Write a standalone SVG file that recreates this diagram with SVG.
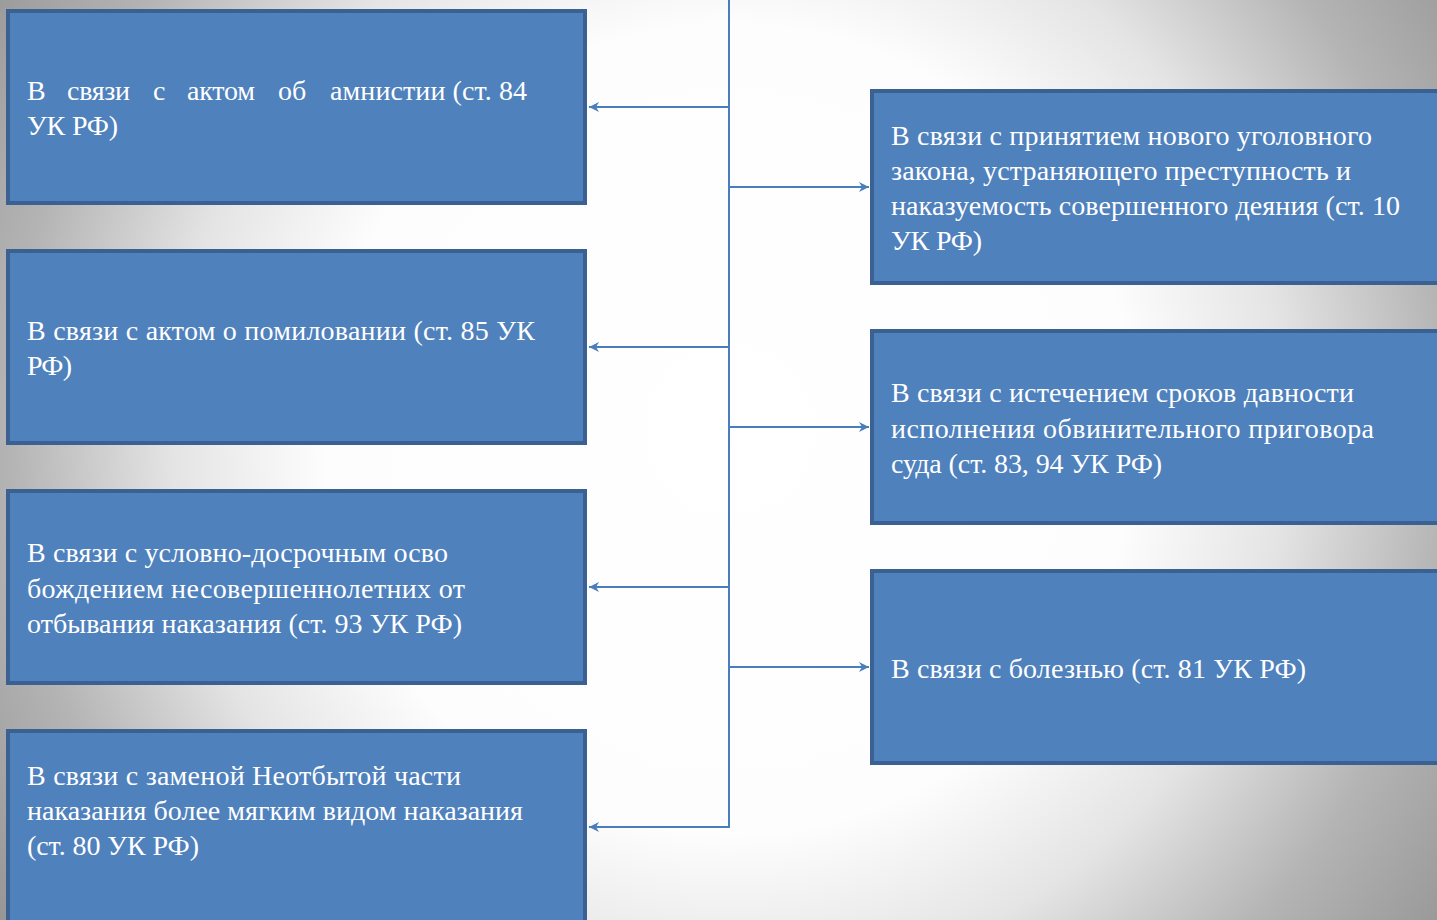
<svg xmlns="http://www.w3.org/2000/svg" width="1437" height="920" viewBox="0 0 1437 920">
<style>
.box{fill:#4F81BD;stroke:#3B6192;stroke-width:4}
.t{font-family:"Liberation Serif","DejaVu Serif",serif;font-size:28px;fill:#FFFFFF}
.c{stroke:#4A7EBB;stroke-width:2;fill:none}
</style>
<defs>
<radialGradient id="bg" cx="730" cy="430" r="900" gradientUnits="userSpaceOnUse">
<stop offset="0" stop-color="#FFFFFF"/>
<stop offset="0.45" stop-color="#FDFDFD"/>
<stop offset="0.62" stop-color="#E4E4E4"/>
<stop offset="0.8" stop-color="#B4B4B4"/>
<stop offset="1" stop-color="#929292"/>
</radialGradient>
<marker id="ah" markerWidth="12" markerHeight="10" refX="10" refY="5" orient="auto" markerUnits="userSpaceOnUse">
<path d="M0,0 L10,5 L0,10 L3,5 Z" fill="#4A7EBB"/>
</marker>
</defs>
<rect x="0" y="0" width="1437" height="920" fill="url(#bg)"/>
<g id="connectors">
<line class="c" x1="729" y1="0" x2="729" y2="828"/>
<line class="c" x1="729" y1="107" x2="589" y2="107" marker-end="url(#ah)"/>
<line class="c" x1="729" y1="347" x2="589" y2="347" marker-end="url(#ah)"/>
<line class="c" x1="729" y1="587" x2="589" y2="587" marker-end="url(#ah)"/>
<line class="c" x1="729" y1="827" x2="589" y2="827" marker-end="url(#ah)"/>
<line class="c" x1="729" y1="187" x2="869" y2="187" marker-end="url(#ah)"/>
<line class="c" x1="729" y1="427" x2="869" y2="427" marker-end="url(#ah)"/>
<line class="c" x1="729" y1="667" x2="869" y2="667" marker-end="url(#ah)"/>
</g>
<g id="n1">
<rect class="box" x="8" y="11" width="577" height="192"/>
<text class="t" x="27" y="100">В</text>
<text class="t" x="67" y="100" textLength="63" lengthAdjust="spacing">связи</text>
<text class="t" x="153" y="100">с</text>
<text class="t" x="187" y="100" textLength="68" lengthAdjust="spacing">актом</text>
<text class="t" x="278" y="100">об</text>
<text class="t" x="330" y="100" textLength="197" lengthAdjust="spacing">амнистии (ст. 84</text>
<text class="t" x="27" y="135" textLength="91" lengthAdjust="spacing">УК РФ)</text>
</g>
<g id="n2">
<rect class="box" x="8" y="251" width="577" height="192"/>
<text class="t" x="27" y="340" textLength="508" lengthAdjust="spacing">В связи с актом о помиловании (ст. 85 УК</text>
<text class="t" x="27" y="375" textLength="45" lengthAdjust="spacing">РФ)</text>
</g>
<g id="n3">
<rect class="box" x="8" y="491" width="577" height="192"/>
<text class="t" x="27" y="562" textLength="421" lengthAdjust="spacing">В связи с условно-досрочным осво</text>
<text class="t" x="27" y="598" textLength="438" lengthAdjust="spacing">бождением несовершеннолетних от</text>
<text class="t" x="27" y="633" textLength="435" lengthAdjust="spacing">отбывания наказания (ст. 93 УК РФ)</text>
</g>
<g id="n4">
<rect class="box" x="8" y="731" width="577" height="200"/>
<text class="t" x="27" y="785" textLength="434" lengthAdjust="spacing">В связи с заменой Неотбытой части</text>
<text class="t" x="27" y="820" textLength="496" lengthAdjust="spacing">наказания более мягким видом наказания</text>
<text class="t" x="27" y="855" textLength="172" lengthAdjust="spacing">(ст. 80 УК РФ)</text>
</g>
<g id="n5">
<rect class="box" x="872" y="91" width="580" height="192"/>
<text class="t" x="891" y="145" textLength="481" lengthAdjust="spacing">В связи с принятием нового уголовного</text>
<text class="t" x="891" y="180" textLength="460" lengthAdjust="spacing">закона, устраняющего преступность и</text>
<text class="t" x="891" y="215" textLength="509" lengthAdjust="spacing">наказуемость совершенного деяния (ст. 10</text>
<text class="t" x="891" y="250" textLength="91" lengthAdjust="spacing">УК РФ)</text>
</g>
<g id="n6">
<rect class="box" x="872" y="331" width="580" height="192"/>
<text class="t" x="891" y="402" textLength="463" lengthAdjust="spacing">В связи с истечением сроков давности</text>
<text class="t" x="891" y="438" textLength="483" lengthAdjust="spacing">исполнения обвинительного приговора</text>
<text class="t" x="891" y="473" textLength="271" lengthAdjust="spacing">суда (ст. 83, 94 УК РФ)</text>
</g>
<g id="n7">
<rect class="box" x="872" y="571" width="580" height="192"/>
<text class="t" x="891" y="678" textLength="415" lengthAdjust="spacing">В связи с болезнью (ст. 81 УК РФ)</text>
</g>
</svg>
